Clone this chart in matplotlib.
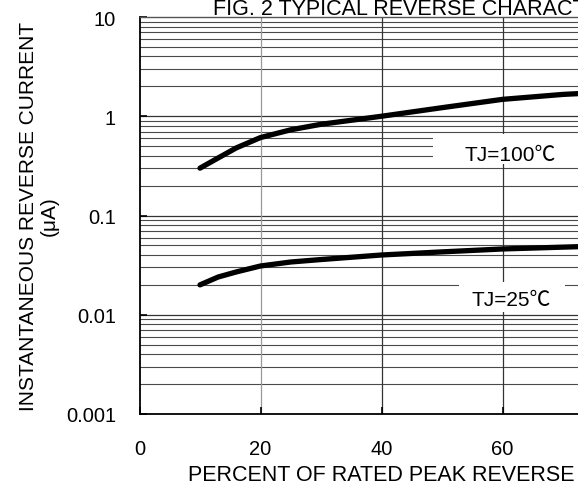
import matplotlib

matplotlib.use("Agg")
import matplotlib.pyplot as plt
from matplotlib.patches import Rectangle
from matplotlib.ticker import FixedLocator, FixedFormatter, NullLocator

plt.rcParams["font.family"] = ["Liberation Sans", "Noto Sans CJK SC", "DejaVu Sans"]

# percent of rated peak reverse voltage
percent = [10, 13, 16, 20, 25, 30, 40, 50, 60, 70, 75]
# instantaneous reverse current (uA)
current_100c = [0.30, 0.38, 0.48, 0.61, 0.73, 0.83, 1.0, 1.22, 1.48, 1.66, 1.72]
current_25c = [0.020, 0.024, 0.027, 0.031, 0.034, 0.036, 0.040, 0.043, 0.046, 0.048, 0.049]

y_ticks = [0.001, 0.01, 0.1, 1, 10]
y_tick_labels = ["0.001", "0.01", "0.1", "1", "10"]
x_ticks = [0, 20, 40, 60]
x_tick_labels = ["0", "20", "40", "60"]

W, H = 578, 485
fig = plt.figure(figsize=(W / 100, H / 100), dpi=100)

# axes run from 0 to 100 %, the right part falls outside the picture
left, right, top, bottom = 139.5, 744.5, 18, 415
ax = fig.add_axes([left / W, 1 - bottom / H, (right - left) / W, (bottom - top) / H])

ax.set_xlim(0, 100)
ax.set_yscale("log")
ax.set_ylim(0.001, 10)

# grid lines
minor_vals = []
for dec in [0.001, 0.01, 0.1, 1]:
    for m in range(2, 10):
        minor_vals.append(dec * m)
for v in minor_vals:
    ax.axhline(v, color="#4a4a4a", lw=0.8, zorder=0.5)
for v in [0.01, 0.1, 1]:
    ax.axhline(v, color="#333333", lw=0.9, zorder=0.5)
for i, v in enumerate([20, 40, 60, 80]):
    ax.axvline(v, color="#999999" if i == 0 else "#333333", lw=0.9, zorder=0.5)

# white boxes behind the labels
ax.add_patch(Rectangle((48.5, 0.33), 25.5, 0.662 - 0.33, facecolor="white",
                       edgecolor="none", zorder=1))
ax.add_patch(Rectangle((52.8, 0.01066), 17.5, 0.0214 - 0.01066, facecolor="white",
                       edgecolor="none", zorder=1))

ax.plot(percent, current_100c, color="black", lw=3.8, solid_capstyle="round", zorder=3)
ax.plot(percent, current_25c, color="black", lw=3.8, solid_capstyle="round", zorder=3)

label_family = ["Liberation Sans", "Noto Sans CJK SC"]
ax.text(61.2, 0.41, "TJ=100℃", fontsize=15, family=label_family,
        ha="center", va="center", zorder=4)
ax.text(61.5, 0.0142, "TJ=25℃", fontsize=15, family=label_family,
        ha="center", va="center", zorder=4)

ax.yaxis.set_major_locator(FixedLocator(y_ticks))
ax.yaxis.set_major_formatter(FixedFormatter(y_tick_labels))
ax.yaxis.set_minor_locator(NullLocator())
ax.xaxis.set_major_locator(FixedLocator(x_ticks))
ax.xaxis.set_major_formatter(FixedFormatter(x_tick_labels))
ax.tick_params(axis="y", direction="in", length=5, width=1.2, pad=17, labelsize=14.5)
ax.tick_params(axis="x", direction="in", length=5, width=1.2, pad=18, labelsize=14.5)

for side in ["left", "bottom"]:
    ax.spines[side].set_linewidth(1.3)
ax.spines["top"].set_linewidth(1.0)
ax.spines["top"].set_color("#555555")

fig.text(213 / W, 1 - 15 / H, "FIG. 2 TYPICAL REVERSE CHARACTERISTICS",
         fontsize=15.5, ha="left", va="baseline")
fig.text(188 / W, 1 - 481.5 / H, "PERCENT OF RATED PEAK REVERSE VOLTAGE (%)",
         fontsize=15.5, ha="left", va="baseline")
fig.text(39 / W, 1 - 216 / H, "INSTANTANEOUS REVERSE CURRENT\n(μA)",
         fontsize=15, rotation=90, ha="center", va="center",
         multialignment="center", linespacing=1.12)

fig.savefig("out.png", dpi=100)
